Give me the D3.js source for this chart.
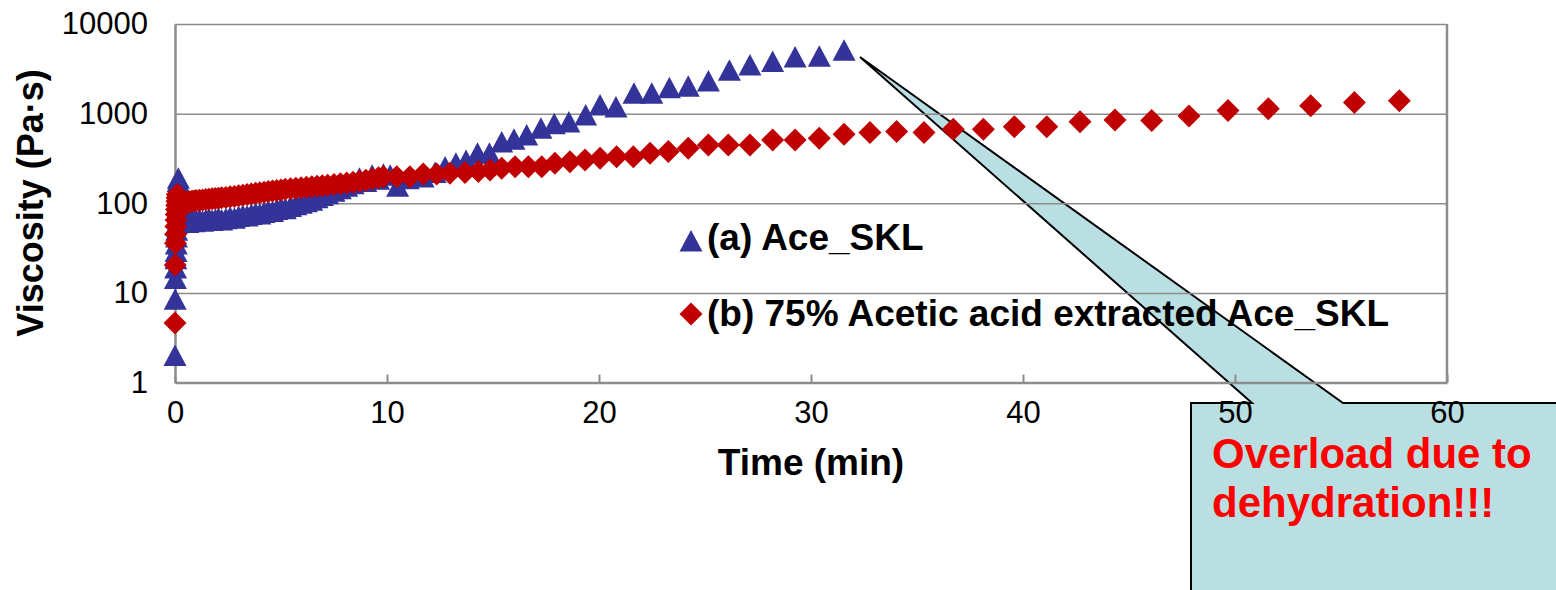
<!DOCTYPE html>
<html>
<head>
<meta charset="utf-8">
<script src="https://cdn.jsdelivr.net/npm/d3@7"></script>
<style>
  body { margin: 0; background: #fff; }
  text { font-family: "Liberation Sans", Arial, sans-serif; }
</style>
</head>
<body>
<main></main>
<script>
// series (a) Ace_SKL
var aceTime = [0, 0.01, 0.02, 0.03, 0.04, 0.05, 0.06, 0.07, 0.08, 0.09, 0.1, 0.11, 0.12, 0.13, 0.14, 0.15, 0.16,
  0.3, 0.4, 0.5, 0.6, 0.7, 0.8, 0.9, 1.0, 1.15, 1.3, 1.45, 1.6, 1.75, 1.9, 2.05, 2.2, 2.4, 2.6, 2.8, 3.0,
  3.2, 3.4, 3.6, 3.8, 4.0, 4.2, 4.4, 4.6, 4.8, 5.0, 5.2, 5.45, 5.7, 5.95, 6.2, 6.45, 6.7, 6.95, 7.2, 7.5,
  7.8, 8.1, 8.4, 8.7, 9.0, 9.3, 9.6, 9.83, 10.15, 10.5, 11.0, 11.7, 12.27, 12.74, 13.25, 13.73, 14.27,
  14.83, 15.41, 15.99, 16.59, 17.26, 17.89, 18.58, 19.37, 20.05, 20.8, 21.65, 22.49, 23.32, 24.21, 25.16,
  26.15, 27.12, 28.19, 29.25, 30.39, 31.56];
var aceVisc = [2.0, 8.5, 14.5, 19, 24, 29, 35, 42, 50, 60, 72, 85, 100, 120, 145, 175, 190,
  66, 62, 64, 61, 63, 65, 62, 64, 66, 63, 65, 67, 64, 66, 68, 65, 67, 70, 68, 71,
  73, 72, 75, 77, 76, 79, 82, 81, 85, 88, 87, 92, 96, 100, 104, 108, 115, 122, 128, 136,
  145, 155, 165, 190, 175, 205, 185, 210, 205, 155, 188, 196, 220, 254, 280, 300, 361,
  361, 483, 518, 578, 687, 773, 807, 967, 1250, 1188, 1690, 1690, 1950, 2020, 2317,
  3050, 3497, 3806, 4293, 4375, 5100];

// series (b) 75% acetic acid extracted Ace_SKL
var extTime = [0, 0.01, 0.02, 0.03, 0.04, 0.05, 0.06, 0.07, 0.08, 0.09, 0.1, 0.11,
  0.3, 0.4, 0.5, 0.6, 0.7, 0.8, 0.9, 1.0, 1.15, 1.3, 1.45, 1.6, 1.75, 1.9, 2.05, 2.2, 2.4, 2.6, 2.8, 3.0,
  3.2, 3.4, 3.6, 3.8, 4.0, 4.2, 4.4, 4.6, 4.8, 5.0, 5.2, 5.45, 5.7, 5.95, 6.2, 6.45, 6.7, 6.95, 7.2, 7.5,
  7.8, 8.1, 8.4, 8.7, 9.0, 9.3, 9.6, 9.83, 10.46, 11.08, 11.71, 12.34, 12.97, 13.68, 14.31, 14.86, 15.41,
  16.04, 16.67, 17.3, 17.92, 18.63, 19.34, 20.05, 20.83, 21.62, 22.41, 23.27, 24.21, 25.16, 26.1, 27.12,
  28.19, 29.25, 30.39, 31.56, 32.78, 34.04, 35.33, 36.71, 38.13, 39.59, 41.12, 42.69, 44.34, 46.07,
  47.83, 49.67, 51.57, 53.57, 55.63, 57.75];
var extVisc = [4.6, 20.5, 35.7, 45, 55, 65, 75, 85, 95, 105, 115, 125,
  98, 100, 102, 103, 104, 105, 106, 107, 108, 109, 110, 111, 112, 113, 114, 115, 116, 118, 119, 121,
  123, 125, 127, 129, 131, 133, 135, 137, 139, 141, 143, 145, 147, 149, 151, 153, 155, 157, 159, 162,
  165, 168, 172, 176, 180, 186, 192, 198, 198, 198, 212, 212, 216, 220, 226, 235, 246,
  256, 256, 256, 279, 291, 304, 318, 331, 331, 361, 377, 411, 448, 448, 448,
  509, 509, 531, 590, 614, 630, 614, 670, 670, 716, 716, 814, 851, 836,
  943, 1081, 1137, 1228, 1327, 1396];

var xTicks = [0, 10, 20, 30, 40, 50, 60];
var yTicks = [1, 10, 100, 1000, 10000];
var seriesNames = ["(a) Ace_SKL", "(b) 75% Acetic acid extracted Ace_SKL"];
var calloutLines = ["Overload due to", "dehydration!!!"];

var W = 1556, H = 590;
var margin = { top: 24, left: 175, right: 109, bottom: 207.5 };
var w = W - margin.left - margin.right;
var h = H - margin.top - margin.bottom;

var svg = d3.select("main")
            .append("svg")
            .attr("width", W)
            .attr("height", H);

// callout sits behind the chart
svg.append("path")
   .attr("d", "M860,57 L1343,403 L1560,403 L1560,596 L1191,596 L1191,403 L1252,403 Z")
   .attr("fill", "#b9dfe2")
   .attr("stroke", "#000")
   .attr("stroke-width", 2)
   .attr("stroke-linejoin", "miter");

var x = d3.scaleLinear().domain([0, 60]).range([0, w]);
var y = d3.scaleLog().domain([1, 10000]).range([h, 0]);

var g = svg.append("g")
           .attr("transform", "translate(" + margin.left + "," + margin.top + ")");

// gridlines
g.append("g")
 .call(d3.axisLeft(y).tickValues(yTicks).tickSize(-w).tickFormat(""))
 .call(function(s) {
   s.select(".domain").remove();
   s.selectAll("line").attr("stroke", "#8c8c8c").attr("stroke-width", 1.5);
 });

// right border
g.append("line")
 .attr("x1", w).attr("x2", w)
 .attr("y1", 0).attr("y2", h)
 .attr("stroke", "#8c8c8c")
 .attr("stroke-width", 2.5);

var xAxis = g.append("g")
             .attr("transform", "translate(0," + h + ")")
             .call(d3.axisBottom(x).tickValues(xTicks).tickSize(-8).tickPadding(18).tickSizeOuter(0));
xAxis.select(".domain").attr("stroke", "#8c8c8c").attr("stroke-width", 2.5);
xAxis.selectAll("line").attr("stroke", "#8c8c8c").attr("stroke-width", 2);
xAxis.selectAll("text")
     .attr("font-size", 31)
     .attr("font-family", "Liberation Sans, Arial, sans-serif")
     .attr("fill", "#000");

var yAxis = g.append("g")
             .call(d3.axisLeft(y).tickValues(yTicks).tickFormat(d3.format("d")).tickSize(0).tickPadding(27));
yAxis.select(".domain").attr("stroke", "#8c8c8c").attr("stroke-width", 2.5);
yAxis.selectAll("text")
     .attr("font-size", 31)
     .attr("font-family", "Liberation Sans, Arial, sans-serif")
     .attr("fill", "#000");

var triangle = "M0,-11 L11.5,10.5 L-11.5,10.5 Z";
var diamond = "M0,-11.5 L11.5,0 L0,11.5 L-11.5,0 Z";

var aceData = aceTime.map(function(t, i) { return { t: t, v: aceVisc[i] }; });
var extData = extTime.map(function(t, i) { return { t: t, v: extVisc[i] }; });

g.append("g")
 .selectAll("path")
 .data(aceData)
 .enter()
 .append("path")
 .attr("d", triangle)
 .attr("transform", function(d) { return "translate(" + x(d.t) + "," + y(d.v) + ")"; })
 .attr("fill", "#333399");

g.append("g")
 .selectAll("path")
 .data(extData)
 .enter()
 .append("path")
 .attr("d", diamond)
 .attr("transform", function(d) { return "translate(" + x(d.t) + "," + y(d.v) + ")"; })
 .attr("fill", "#c00000");

// legend
var legend = svg.append("g");
legend.append("path").attr("d", triangle).attr("transform", "translate(691,241)").attr("fill", "#333399");
legend.append("path").attr("d", diamond).attr("transform", "translate(691,314)").attr("fill", "#c00000");
legend.selectAll("text")
      .data(seriesNames)
      .enter()
      .append("text")
      .attr("x", 707)
      .attr("y", function(d, i) { return 250 + i * 76; })
      .attr("font-size", 37)
      .attr("font-weight", "bold")
      .text(function(d) { return d; });

// axis titles
svg.append("text")
   .attr("x", 811)
   .attr("y", 475)
   .attr("text-anchor", "middle")
   .attr("font-size", 37)
   .attr("font-weight", "bold")
   .text("Time (min)");

svg.append("text")
   .attr("transform", "translate(43,203) rotate(-90)")
   .attr("text-anchor", "middle")
   .attr("font-size", 36)
   .attr("font-weight", "bold")
   .text("Viscosity (Pa\u00b7s)");

// callout text
svg.selectAll(".callout")
   .data(calloutLines)
   .enter()
   .append("text")
   .attr("class", "callout")
   .attr("x", 1212)
   .attr("y", function(d, i) { return 468 + i * 49; })
   .attr("font-size", 42)
   .attr("font-weight", "bold")
   .attr("fill", "#ff0000")
   .text(function(d) { return d; });
</script>
</body>
</html>
